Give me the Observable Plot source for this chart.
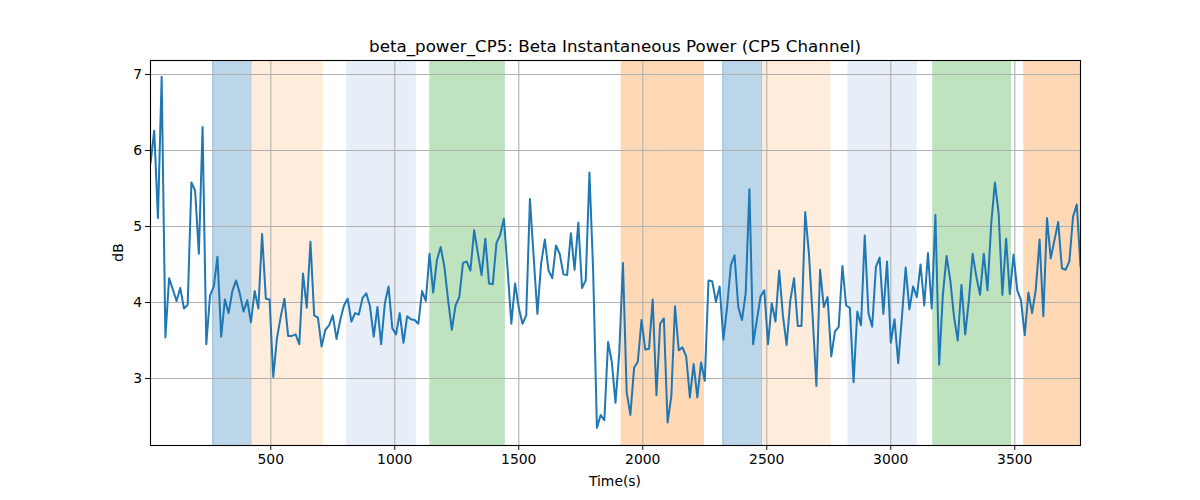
<!DOCTYPE html>
<html>
<head>
<meta charset="utf-8">
<script src="https://cdn.jsdelivr.net/npm/d3@7"></script>
<script src="https://cdn.jsdelivr.net/npm/@observablehq/plot@0.6"></script>
<style>
  html, body { margin: 0; padding: 0; background: #fff; }
  #chart svg { display: block; font-family: "DejaVu Sans", sans-serif; }
</style>
</head>
<body>
<div id="chart"></div>
<script>
// ---- data ----
const title = "beta_power_CP5: Beta Instantaneous Power (CP5 Channel)";
const xLabel = "Time(s)";
const yLabel = "dB";
const startTime = 15;      // first sample (s)
const sampleStep = 15;     // seconds between samples
const power = [
  5.83, 6.26, 5.11, 6.97, 3.54, 4.32, 4.17, 4.02, 4.19, 3.92, 3.97, 5.58, 5.47, 4.64, 6.31, 3.45, 4.09, 4.21, 4.60, 3.55, 4.04, 3.86, 4.15, 4.29, 4.12, 3.88, 4.03, 3.74, 4.15, 3.92,
  4.90, 4.05, 4.04, 3.02, 3.53, 3.81, 4.05, 3.56, 3.56, 3.58, 3.45, 4.38, 3.93, 4.80, 3.83, 3.80, 3.42, 3.64, 3.70, 3.83, 3.52, 3.77, 3.96, 4.05, 3.75, 3.86, 3.84, 4.06, 4.12, 3.95,
  3.55, 3.94, 3.45, 3.99, 4.21, 3.66, 3.58, 3.86, 3.47, 3.82, 3.78, 3.77, 3.72, 4.15, 4.02, 4.64, 4.13, 4.56, 4.73, 4.47, 4.03, 3.64, 3.96, 4.07, 4.52, 4.54, 4.42, 4.95, 4.65, 4.36,
  4.84, 4.25, 4.24, 4.78, 4.89, 5.10, 4.43, 3.72, 4.25, 3.93, 3.72, 3.83, 5.36, 4.60, 3.85, 4.51, 4.83, 4.42, 4.32, 4.75, 4.64, 4.37, 4.36, 4.91, 4.43, 5.05, 4.19, 4.29, 5.71, 4.40,
  2.35, 2.52, 2.45, 3.48, 3.22, 2.68, 3.33, 4.52, 2.82, 2.52, 3.14, 3.22, 3.77, 3.38, 3.39, 4.04, 2.78, 3.72, 3.79, 2.42, 2.76, 3.95, 3.37, 3.41, 3.29, 2.75, 3.19, 2.75, 3.21, 2.97,
  4.29, 4.28, 4.01, 4.21, 3.51, 3.94, 4.49, 4.62, 3.94, 3.77, 4.12, 5.49, 3.45, 3.77, 4.08, 4.16, 3.45, 3.99, 3.75, 4.42, 3.83, 3.44, 4.03, 4.32, 3.69, 3.69, 5.19, 4.64, 3.81, 2.90,
  4.43, 3.94, 4.07, 3.29, 3.62, 3.68, 4.48, 3.96, 3.93, 2.95, 3.88, 3.70, 4.88, 3.86, 3.68, 4.47, 4.59, 3.85, 4.54, 3.47, 3.78, 3.20, 3.81, 4.46, 3.91, 4.21, 4.07, 4.50, 3.96, 4.65,
  3.92, 5.15, 3.18, 4.10, 4.61, 4.29, 3.81, 3.50, 4.23, 3.58, 4.03, 4.64, 4.34, 4.10, 4.64, 4.16, 5.04, 5.58, 5.17, 4.10, 4.84, 4.11, 4.63, 4.16, 4.03, 3.57, 4.13, 3.86, 4.18, 4.83,
  3.82, 5.11, 4.58, 4.82, 5.06, 4.45, 4.43, 4.54, 5.13, 5.29, 4.47
];
// shaded segments
const segStart = [266, 420, 806, 1141, 1913, 2323, 2479, 2827, 3169, 3536];
const segEnd   = [420, 712, 1087, 1446, 2249, 2479, 2758, 3107, 3487, 3800];
const segKind  = ["A", "B", "C", "D", "E", "A", "B", "C", "D", "E"];
const xTicks = [500, 1000, 1500, 2000, 2500, 3000, 3500];
const yTicks = [3, 4, 5, 6, 7];

// ---- build ----
const series = power.map((v, i) => ({t: startTime + i * sampleStep, v}));
const segs = segStart.map((s, i) => ({x1: s, x2: segEnd[i], kind: segKind[i]}));
const kindFill = {A: "#1f77b4", B: "#ff7f0e", C: "#aec7e8", D: "#2ca02c", E: "#ff7f0e"};
const kindOpacity = {A: 0.3, B: 0.15, C: 0.3, D: 0.3, E: 0.3};

const W = 1200, H = 500;
const mL = 150, mR = 120, mT = 60, mB = 55;
const xDomain = [startTime, startTime + (power.length - 1) * sampleStep];
const fmt = d3.format("d");

const plot = Plot.plot({
  width: W, height: H,
  marginLeft: mL, marginRight: mR, marginTop: mT, marginBottom: mB,
  style: {fontFamily: "DejaVu Sans, sans-serif", fontSize: "13.9px", color: "#000", background: "#fff"},
  x: {domain: xDomain, ticks: xTicks},
  y: {domain: [2.118, 7.184], ticks: yTicks},
  marks: [
    Plot.rect(segs, {x1: "x1", x2: "x2", fill: d => kindFill[d.kind], fillOpacity: d => kindOpacity[d.kind], clip: true}),
    Plot.ruleX(segs.filter(d => d.kind === "A").flatMap(d => [d.x1, d.x2]), {stroke: "#1f77b4", strokeOpacity: 0.3, clip: true}),
    Plot.gridX(xTicks, {stroke: "#b0b0b0", strokeOpacity: 1, strokeWidth: 1.1}),
    Plot.gridY(yTicks, {stroke: "#b0b0b0", strokeOpacity: 1, strokeWidth: 1.1}),
    Plot.line(series, {x: "t", y: "v", stroke: "#1f77b4", strokeWidth: 2, strokeLinejoin: "round", clip: true}),
    Plot.frame({stroke: "#000", strokeWidth: 1.1}),
    Plot.axisX(xTicks, {tickSize: 4.9, tickPadding: 3.5, fontSize: 13.9, tickFormat: fmt, label: null, stroke: "#000"}),
    Plot.axisY(yTicks, {tickSize: 4.9, tickPadding: 3.5, fontSize: 13.9, tickFormat: fmt, label: null, stroke: "#000"})
  ]
});
document.getElementById("chart").appendChild(plot);

const svg = d3.select(plot);
svg.append("text")
  .attr("x", (mL + W - mR) / 2).attr("y", 52)
  .attr("text-anchor", "middle")
  .attr("font-size", "16.7px").attr("fill", "#000")
  .text(title);
svg.append("text")
  .attr("x", (mL + W - mR) / 2).attr("y", 486)
  .attr("text-anchor", "middle")
  .attr("font-size", "13.9px").attr("fill", "#000")
  .text(xLabel);
svg.append("text")
  .attr("transform", `translate(123,${(mT + H - mB) / 2}) rotate(-90)`)
  .attr("text-anchor", "middle")
  .attr("font-size", "13.9px").attr("fill", "#000")
  .text(yLabel);
</script>
</body>
</html>
